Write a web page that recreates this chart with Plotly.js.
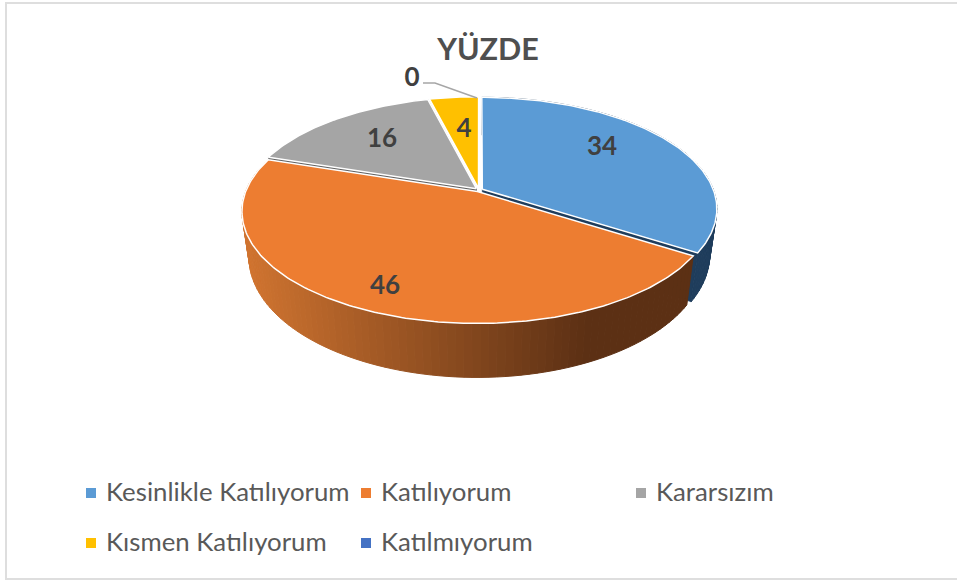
<!DOCTYPE html>
<html><head><meta charset="utf-8">
<script src="https://cdn.plot.ly/plotly-3.0.1.min.js"></script>
<style>html,body{margin:0;padding:0;background:#fff}#c{width:957px;height:580px}</style>
</head><body><div id="c"></div>
<script>
// data
const categories = ['Kesinlikle Katılıyorum','Katılıyorum','Kararsızım','Kısmen Katılıyorum','Katılmıyorum'];
const values = [34,46,16,4,0];
const chartTitle = 'YÜZDE';
// style
const topColors = ['#5b9bd5','#ed7d31','#a5a5a5','#ffc000','#4472c4'];
const sideColors = ['#1f3d5c','#7f451f','#636363','#997300','#294a80'];
const labelX = [602,385,382,464,412];
const labelY = [148,287,140,130,79];
const legendX = [91,366,641,91,366];
const legendY = [495,495,495,545,545];
const legendTextGap = 15;
// projection of the pie plane (tilted, with perspective) into axis units
const cx=479, cy=190, A=109.5, B=234, k=0.177, depth=44.4, sx=0.97, burst=0.016, rad=0.988;
function pt(t,off,r,bottom){
  const px=off[0]+r*Math.sin(t), pd=off[1]-r*Math.cos(t), w=1-k*pd;
  return bottom ? [cx+sx*B*px/w, cy+A*pd/w+depth/w] : [cx+B*px/w, cy+A*pd/w];
}
function poly(ps,fill,lineColor,lw){
  return {type:'scatter',mode:'lines',x:ps.map(p=>p[0]),y:ps.map(p=>p[1]),fill:'toself',fillcolor:fill,
    line:{color:lineColor,width:lw},hoverinfo:'skip',showlegend:false};
}
function lerp(a,b,f){return a.map((v,i)=>Math.round(v+(b[i]-v)*f));}
const total=values.reduce((a,b)=>a+b,0);
const slices=[]; let acc=0;
values.forEach((v,i)=>{
  const a0=acc/total*2*Math.PI; acc+=v; const a1=acc/total*2*Math.PI, m=(a0+a1)/2;
  slices.push({i,a0,a1,off:[burst*Math.sin(m),-burst*Math.cos(m)]});
});
const traces=[];
function drawSlice(s,faceStart,faceEnd,rim){
  if(s.a1<=s.a0) return;
  const c=sideColors[s.i], n=Math.max(4,Math.round((s.a1-s.a0)/0.03));
  const apexT=pt(0,s.off,0,false), apexB=pt(0,s.off,0,true);
  if(faceStart) traces.push(poly([apexT,pt(s.a0,s.off,rad,false),pt(s.a0,s.off,rad,true),apexB,apexT],c,c,0.5));
  if(faceEnd) traces.push(poly([apexT,pt(s.a1,s.off,rad,false),pt(s.a1,s.off,rad,true),apexB,apexT],c,c,0.5));
  if(rim) for(let j=0;j<n;j++){
    const t0=s.a0+(s.a1-s.a0)*j/n, t1=s.a0+(s.a1-s.a0)*(j+1)/n;
    const q=[pt(t0,s.off,rad,false),pt(t1,s.off,rad,false),pt(t1,s.off,rad,true),pt(t0,s.off,rad,true)];
    q.push(q[0]);
    let col=c;
    if(s.i===1){ // orange rim shading follows screen x
      const f=Math.min(1,Math.max(0,(q[0][0]-245)/345));
      const rgb=lerp([208,116,48],[92,48,20],f);
      col='rgb('+rgb.join(',')+')';
    }
    traces.push(poly(q,col,col,1));
  }
  const top=[pt(0,s.off,0,false)];
  for(let j=0;j<=n*2;j++) top.push(pt(s.a0+(s.a1-s.a0)*j/(n*2),s.off,rad,false));
  top.push(top[0]);
  traces.push(poly(top,topColors[s.i],'#ffffff',1.5));
}
drawSlice(slices[2],true,true,false);
drawSlice(slices[3],false,false,false);
drawSlice(slices[0],false,true,true);
drawSlice(slices[1],false,false,true);
// leader line for the zero slice
traces.push({type:'scatter',mode:'lines',x:[423,435,477],y:[83,83,98],line:{color:'#a6a6a6',width:1.5},hoverinfo:'skip',showlegend:false});
// data labels
traces.push({type:'scatter',mode:'text',x:labelX,y:labelY,text:values.map(String),textposition:'middle center',
  textfont:{family:'Lato, "Open Sans", sans-serif',size:26,color:'#404040',weight:700},hoverinfo:'skip',showlegend:false});
// legend
categories.forEach((c,i)=>{
  traces.push({type:'scatter',mode:'markers',x:[legendX[i]],y:[legendY[i]-2],marker:{symbol:'square',size:10,color:topColors[i]},hoverinfo:'skip',showlegend:false});
  traces.push({type:'scatter',mode:'text',x:[legendX[i]+legendTextGap],y:[legendY[i]],text:[c],textposition:'middle right',
    textfont:{family:'Lato, "Open Sans", sans-serif',size:25.8,color:'#595959'},hoverinfo:'skip',showlegend:false});
});
const layout={
  width:957,height:580,margin:{l:0,r:0,t:0,b:0},paper_bgcolor:'#fff',plot_bgcolor:'#fff',showlegend:false,
  title:{text:chartTitle,x:488/957,y:1-49/580,xanchor:'center',yanchor:'middle',
    font:{family:'Lato, "Open Sans", sans-serif',size:30.5,color:'#4f4f4f',weight:700}},
  xaxis:{range:[0,957],visible:false,fixedrange:true},
  yaxis:{range:[580,0],visible:false,fixedrange:true},
  shapes:[{type:'path',path:'M 957 3 L 6 3 L 6 579 L 957 579',line:{color:'#dedede',width:2},xref:'x',yref:'y'}]
};
Plotly.newPlot('c',traces,layout,{displayModeBar:false,staticPlot:true});
</script></body></html>
